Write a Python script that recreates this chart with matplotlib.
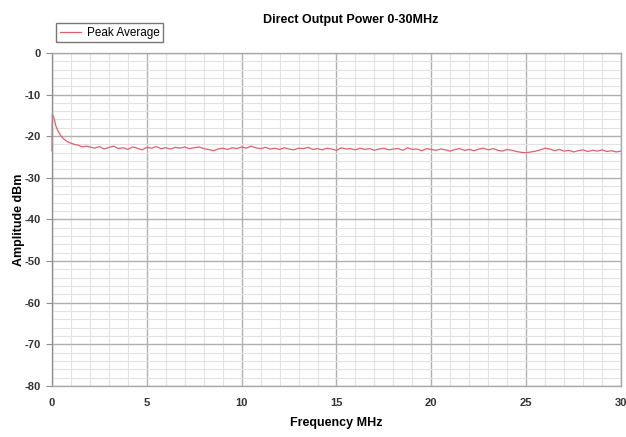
import numpy as np
import matplotlib.pyplot as plt
from matplotlib.ticker import MultipleLocator

plt.rcParams['font.family'] = ['Liberation Sans', 'DejaVu Sans']
plt.rcParams['axes.unicode_minus'] = False

# start of the sweep (the DC spike and its decay)
start_freq = [0.0, 0.02, 0.1, 0.2, 0.3, 0.45, 0.6, 0.8, 1.0, 1.2, 1.4, 1.6, 1.8]
start_dbm = [-23.5, -14.8, -15.5, -17.5, -18.6, -19.8, -20.6, -21.3, -21.7,
             -22.0, -22.2, -22.6, -22.4]

# rest of the sweep, read every 0.25 MHz from 2 to 30 MHz
sweep_freq = np.arange(2.0, 30.01, 0.25)
sweep_dbm = [
    -22.6, -22.9, -22.5, -23.1, -22.7, -22.4, -23.0, -22.8, -23.2,
    -22.6, -22.9, -23.3, -22.7, -22.9, -22.5, -23.0, -22.8,
    -23.1, -22.7, -22.9, -22.6, -23.0, -22.8, -22.6, -23.0,
    -23.2, -23.5, -23.1, -22.9, -23.2, -22.8, -23.0, -22.6,
    -22.9, -22.4, -22.8, -23.0, -22.7, -23.1, -22.9, -23.2,
    -22.8, -23.1, -23.3, -22.9, -23.0, -22.7, -23.2, -23.0,
    -23.3, -22.9, -23.1, -23.4, -22.8, -23.1, -23.0, -23.3,
    -22.9, -23.2, -23.0, -23.4, -23.1, -22.9, -23.3, -23.1,
    -23.0, -23.4, -22.8, -23.2, -23.1, -23.5, -23.0, -23.2,
    -23.4, -23.1, -23.3, -23.6, -23.2, -23.0, -23.4, -23.2,
    -23.5, -23.1, -22.9, -23.3, -23.0, -23.4, -23.6, -23.2,
    -23.4, -23.7, -23.9, -24.0, -23.8, -23.6, -23.3, -22.9,
    -23.1, -23.5, -23.2, -23.6, -23.4, -23.8, -23.5, -23.3,
    -23.7, -23.4, -23.6, -23.3, -23.7, -23.5, -23.8, -23.6,
]

freq = np.concatenate([start_freq, sweep_freq])
dbm = np.concatenate([start_dbm, sweep_dbm])

fig = plt.figure(figsize=(6.26, 4.37), dpi=100)
ax = fig.add_axes([0.083, 0.117, 0.909, 0.762])

line, = ax.plot(freq, dbm, color='#e0606e', lw=0.9, label='Peak Average',
                clip_on=False)

ax.set_xlim(0, 30)
ax.set_ylim(-80, 0)
ax.xaxis.set_major_locator(MultipleLocator(5))
ax.xaxis.set_minor_locator(MultipleLocator(1))
ax.yaxis.set_major_locator(MultipleLocator(10))
ax.yaxis.set_minor_locator(MultipleLocator(2))

ax.grid(which='minor', color='#e2e2e2', lw=0.8)
ax.grid(which='major', color='#b0b0b0', lw=1.0)
ax.set_axisbelow(True)

for s in ax.spines.values():
    s.set_color('#a8a8a8')
    s.set_linewidth(1.0)
ax.spines['left'].set_color('#909090')

ax.tick_params(which='major', axis='y', length=4, color='#909090',
               labelsize=8, pad=4)
ax.tick_params(which='major', axis='x', length=0, labelsize=8, pad=9)
ax.tick_params(which='minor', length=0)
for lab in ax.get_xticklabels() + ax.get_yticklabels():
    lab.set_fontweight('bold')
    lab.set_color('#333333')

ax.set_xlabel('Frequency MHz', fontsize=9, fontweight='bold', labelpad=6)
ax.set_ylabel('Amplitude dBm', fontsize=9, fontweight='bold', labelpad=0)

fig.text(0.56, 0.955, 'Direct Output Power 0-30MHz', ha='center', va='center',
         fontsize=9, fontweight='bold')

fig.legend(handles=[line], loc='upper left', bbox_to_anchor=(0.08, 0.96),
           fontsize=8.5, frameon=True, fancybox=False, edgecolor='#555555',
           handlelength=1.8, borderpad=0.3, handletextpad=0.5)

plt.savefig('out.png', dpi=100)
